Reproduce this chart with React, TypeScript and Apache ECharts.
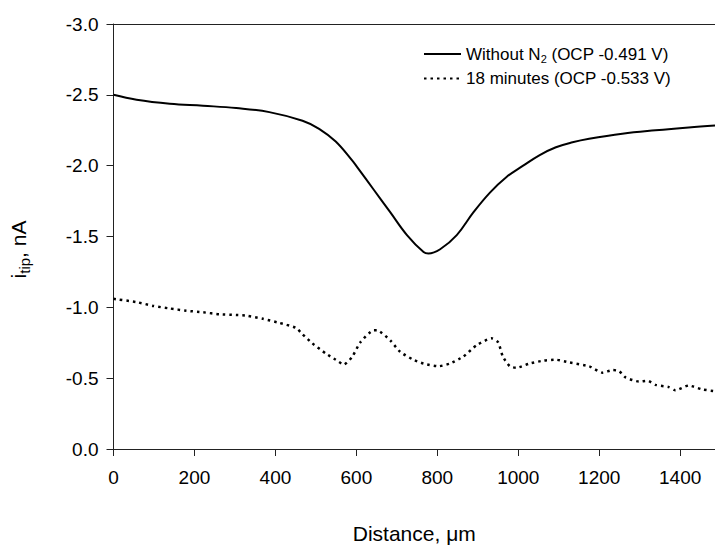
import React, { useEffect, useRef } from "react";
import * as echarts from "echarts";

const solidDistance = [0, 57, 139, 221, 303, 385, 467, 508, 549, 590, 602, 643, 684, 725, 766, 778, 807, 848, 889, 930, 971, 1012, 1053, 1093, 1134, 1175, 1257, 1339, 1421, 1486];
const solidCurrent = [-2.5, -2.465, -2.437, -2.423, -2.407, -2.378, -2.317, -2.26, -2.17, -2.035, -1.99, -1.83, -1.67, -1.51, -1.39, -1.38, -1.41, -1.51, -1.67, -1.81, -1.92, -2.0, -2.075, -2.13, -2.165, -2.19, -2.226, -2.25, -2.27, -2.283];

const dottedDistance = [0, 57, 98, 139, 180, 221, 262, 303, 328, 369, 410, 450, 467, 491, 524, 549, 569, 590, 610, 643, 651, 684, 708, 741, 766, 803, 831, 864, 897, 934, 950, 962, 979, 995, 1028, 1061, 1093, 1126, 1175, 1208, 1233, 1249, 1265, 1298, 1319, 1339, 1372, 1388, 1421, 1454, 1486];
const dottedCurrent = [-1.06, -1.037, -1.01, -0.992, -0.976, -0.965, -0.951, -0.946, -0.942, -0.919, -0.89, -0.856, -0.81, -0.747, -0.675, -0.63, -0.596, -0.652, -0.754, -0.838, -0.838, -0.766, -0.686, -0.63, -0.603, -0.584, -0.603, -0.652, -0.732, -0.781, -0.754, -0.652, -0.584, -0.573, -0.603, -0.623, -0.63, -0.611, -0.584, -0.539, -0.557, -0.55, -0.505, -0.476, -0.482, -0.453, -0.437, -0.414, -0.448, -0.421, -0.408];

const seriesNames = ["Without N2 (OCP -0.491 V)", "18 minutes (OCP -0.533 V)"];
const xTitle = "Distance, \u03bcm";

const FONT = "Liberation Sans, Arial, sans-serif";

export default function App() {
  const ref = useRef<HTMLDivElement>(null);
  useEffect(() => {
    if (!ref.current) return;
    const chart = echarts.init(ref.current, undefined, { renderer: "svg" });
    const axisColor = "#222";
    chart.setOption({
      animation: false,
      backgroundColor: "#fff",
      textStyle: { fontFamily: FONT, color: "#000" },
      grid: { left: 110, top: 24, right: 0, bottom: 83 },
      legend: {
        orient: "vertical",
        left: 418,
        top: 40,
        itemWidth: 37,
        itemHeight: 14,
        itemGap: 6,
        data: seriesNames,
        itemStyle: { opacity: 0 },
        formatter: (name: string) =>
          name === seriesNames[0]
            ? "{a|Without N}{s|2}{a| (OCP -0.491 V)}"
            : "{a|18 minutes (OCP -0.533 V)}",
        textStyle: {
          fontFamily: FONT,
          color: "#000",
          rich: {
            a: { fontSize: 17, fontFamily: FONT, color: "#000", lineHeight: 20 },
            s: { fontSize: 11, fontFamily: FONT, color: "#000", lineHeight: 20, verticalAlign: "bottom", padding: [8, 0, 0, 0] },
          },
        },
      },
      xAxis: [
        {
          type: "value",
          min: 0,
          max: 1486,
          interval: 200,
          name: xTitle,
          nameLocation: "middle",
          nameGap: 74,
          nameTextStyle: { fontSize: 21, fontFamily: FONT, color: "#000" },
          axisLine: { show: true, lineStyle: { color: axisColor, width: 1 } },
          axisTick: { show: true, length: 7, inside: false, lineStyle: { color: axisColor } },
          axisLabel: {
            fontSize: 19,
            fontFamily: FONT,
            color: "#000",
            margin: 19,
            showMaxLabel: false,
            formatter: (v: number) => String(v),
          },
          splitLine: { show: false },
        },
        {
          type: "value",
          position: "top",
          min: 0,
          max: 1486,
          axisLine: { show: true, lineStyle: { color: axisColor, width: 1 } },
          axisTick: { show: false },
          axisLabel: { show: false },
          splitLine: { show: false },
        },
      ],
      yAxis: {
        type: "value",
        min: -3,
        max: 0,
        interval: 0.5,
        inverse: true,
        name: "{i|i}{t|tip}{i|, nA}",
        nameLocation: "middle",
        nameGap: 82,
        nameRotate: 90,
        nameTextStyle: {
          fontFamily: FONT,
          color: "#000",
          padding: [0, 26, 0, 0],
          rich: {
            i: { fontSize: 21, fontFamily: FONT, color: "#000", lineHeight: 26 },
            t: { fontSize: 15, fontFamily: FONT, color: "#000", lineHeight: 26, verticalAlign: "bottom", padding: [8, 0, 0, 0] },
          },
        },
        axisLine: { show: true, lineStyle: { color: axisColor, width: 1 } },
        axisTick: { show: true, length: 7, inside: false, lineStyle: { color: axisColor } },
        axisLabel: {
          fontSize: 19,
          fontFamily: FONT,
          color: "#000",
          margin: 15,
          formatter: (v: number) => v.toFixed(1),
        },
        splitLine: { show: false },
      },
      series: [
        {
          name: seriesNames[0],
          type: "line",
          xAxisIndex: 0,
          showSymbol: false,
          symbol: "none",
          smooth: 0.4,
          lineStyle: { color: "#000", width: 2, type: "solid" },
          itemStyle: { color: "#000" },
          data: solidDistance.map((d, i) => [d, solidCurrent[i]]),
        },
        {
          name: seriesNames[1],
          type: "line",
          xAxisIndex: 0,
          showSymbol: false,
          symbol: "none",
          smooth: 0.2,
          lineStyle: { color: "#000", width: 2.5, type: [2.5, 4] },
          itemStyle: { color: "#000" },
          data: dottedDistance.map((d, i) => [d, dottedCurrent[i]]),
        },
      ],
    });
    return () => chart.dispose();
  }, []);
  return (
    <div
      ref={ref}
      style={{ position: "fixed", left: 0, top: 0, width: 715, height: 549, background: "#fff" }}
    />
  );
}
